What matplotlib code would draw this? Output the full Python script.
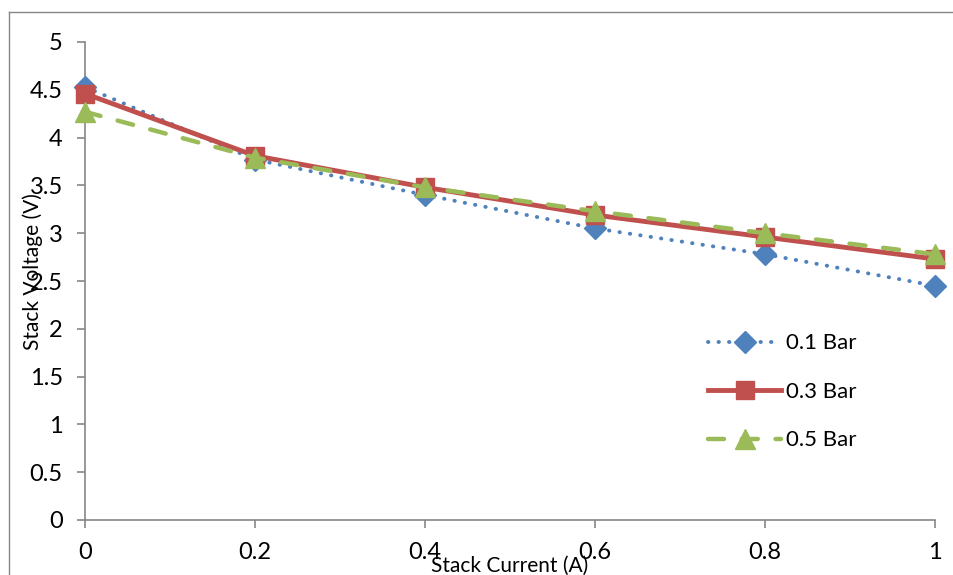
import matplotlib.pyplot as plt
from matplotlib.lines import Line2D

plt.rcParams['font.family'] = ['Lato', 'DejaVu Sans']

# data
current = [0, 0.2, 0.4, 0.6, 0.8, 1.0]
v_01bar = [4.53, 3.77, 3.40, 3.05, 2.78, 2.45]
v_03bar = [4.46, 3.81, 3.48, 3.19, 2.96, 2.73]
v_05bar = [4.27, 3.79, 3.48, 3.23, 3.00, 2.78]
labels = ['0.1 Bar', '0.3 Bar', '0.5 Bar']

fig = plt.figure(figsize=(9.54, 5.75), dpi=100)
ax = fig.add_axes([85 / 954, 55 / 575, 850 / 954, 478 / 575])

ax.plot(current, v_01bar, color='#4F81BD', lw=2.8, ls=(0, (0.1, 2.6)),
        dash_capstyle='round', marker='D', ms=11, mec='#4F81BD',
        clip_on=False, label=labels[0], zorder=3)
ax.plot(current, v_03bar, color='#C0504D', lw=3.5, ls='-',
        marker='s', ms=13, mec='#C0504D', clip_on=False,
        label=labels[1], zorder=4)
ax.plot(current, v_05bar, color='#9BBB59', lw=3.2, ls=(0, (3.6, 4.0)),
        dash_capstyle='round', marker='^', ms=14, mec='#9BBB59',
        clip_on=False, label=labels[2], zorder=5)

ax.set_xlim(0, 1)
ax.set_ylim(0, 5)
ax.set_xticks([0, 0.2, 0.4, 0.6, 0.8, 1])
ax.set_xticklabels(['0', '0.2', '0.4', '0.6', '0.8', '1'])
ax.set_yticks([0, 0.5, 1, 1.5, 2, 2.5, 3, 3.5, 4, 4.5, 5])
ax.set_yticklabels(['0', '0.5', '1', '1.5', '2', '2.5', '3', '3.5', '4', '4.5', '5'])

for s in ['top', 'right']:
    ax.spines[s].set_visible(False)
for s in ['left', 'bottom']:
    ax.spines[s].set_color('#868686')
    ax.spines[s].set_linewidth(1.2)
ax.tick_params(axis='both', direction='out', length=6, width=1.2,
               color='#868686', labelsize=17)
ax.tick_params(axis='x', pad=10)
ax.tick_params(axis='y', pad=10)

ax.set_xlabel('Stack Current (A)', fontsize=15)
ax.xaxis.set_label_coords(0.5, -0.096)
ax.xaxis.label.set_va('center')
ax.set_ylabel('Stack Voltage (V)', fontsize=15)
ax.yaxis.set_label_coords(-0.062, 0.52)
ax.yaxis.label.set_va('center')

ax.legend(loc='center left', bbox_to_anchor=(0.733, 0.268), frameon=False,
          fontsize=16, handlelength=3.3, labelspacing=1.28, handletextpad=0.2,
          borderpad=0, borderaxespad=0)

# outer chart border
fig.add_artist(Line2D([9 / 954, 9 / 954], [0, 1 - 12 / 575],
                      transform=fig.transFigure, color='#868686', lw=1))
fig.add_artist(Line2D([9 / 954, 1], [1 - 12 / 575, 1 - 12 / 575],
                      transform=fig.transFigure, color='#868686', lw=1))

fig.savefig('out.png', dpi=100)
